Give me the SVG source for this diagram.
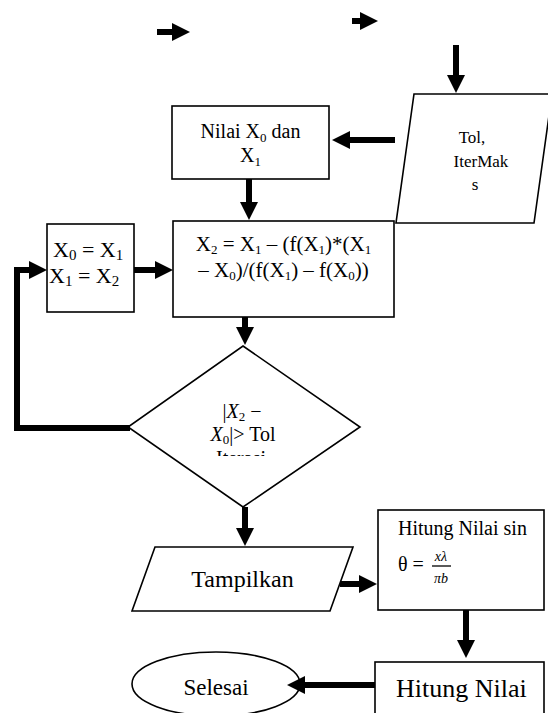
<svg xmlns="http://www.w3.org/2000/svg" width="548" height="713" viewBox="0 0 548 713">
<style>
.shape{fill:#fff;stroke:#000;stroke-width:1.6}
.arr{fill:none;stroke:#000;stroke-width:6;marker-end:url(#ah)}
.t{font-family:"Liberation Serif","Times New Roman",serif;fill:#000}
.i{font-style:italic}
</style>
<defs>
<marker id="ah" markerUnits="userSpaceOnUse" markerWidth="18" markerHeight="18" refX="6" refY="9" orient="auto" viewBox="0 0 18 18">
<path d="M0,0 L18,9 L0,18 z" fill="#000"/>
</marker>
<clipPath id="clipIter"><rect x="180" y="446" width="130" height="10"/></clipPath>
</defs>

<g id="nilai">
<rect class="shape" x="172" y="106" width="157" height="73"/>
<text class="t" font-size="20" x="250.5" y="138" text-anchor="middle">Nilai X<tspan font-size="13" dy="4">0</tspan><tspan dy="-4"> dan</tspan></text>
<text class="t" font-size="20" x="250.5" y="162" text-anchor="middle">X<tspan font-size="13" dy="4">1</tspan></text>
</g>

<g id="tol">
<polygon class="shape" points="414,94 552,94 534,223 396,223"/>
<text class="t" font-size="17" x="472" y="143" text-anchor="middle">Tol,</text>
<text class="t" font-size="17" x="481" y="167" text-anchor="middle">IterMak</text>
<text class="t" font-size="17" x="475" y="190" text-anchor="middle">s</text>
</g>

<g id="x2">
<rect class="shape" x="173" y="221" width="221" height="96"/>
<text class="t" font-size="21" x="283.5" y="251" text-anchor="middle">X<tspan font-size="13" dy="3">2</tspan><tspan dy="-3"> = X</tspan><tspan font-size="13" dy="3">1</tspan><tspan dy="-3"> – (f(X</tspan><tspan font-size="13" dy="3">1</tspan><tspan dy="-3">)*(X</tspan><tspan font-size="13" dy="3">1</tspan></text>
<text class="t" font-size="21" x="283.5" y="277" text-anchor="middle">– X<tspan font-size="13" dy="3">0</tspan><tspan dy="-3">)/(f(X</tspan><tspan font-size="13" dy="3">1</tspan><tspan dy="-3">) – f(X</tspan><tspan font-size="13" dy="3">0</tspan><tspan dy="-3">))</tspan></text>
</g>

<g id="swap">
<rect class="shape" x="47" y="224" width="87" height="88"/>
<text class="t" font-size="22" x="53" y="257">X<tspan font-size="15" dy="3">0</tspan><tspan dy="-3"> = X</tspan><tspan font-size="15" dy="3">1</tspan></text>
<text class="t" font-size="22" x="49" y="283">X<tspan font-size="15" dy="3">1</tspan><tspan dy="-3"> = X</tspan><tspan font-size="15" dy="3">2</tspan></text>
</g>

<g id="cek">
<polygon class="shape" points="243,346 360,427 243,507 128,427"/>
<text class="t" font-size="20" x="242" y="418" text-anchor="middle">|<tspan class="i">X</tspan><tspan font-size="13" dy="3">2</tspan><tspan dy="-3"> −</tspan></text>
<text class="t" font-size="20" x="243" y="441" text-anchor="middle"><tspan class="i">X</tspan><tspan font-size="13" dy="3">0</tspan><tspan dy="-3">|&gt; Tol</tspan></text>
<text class="t" font-size="20" x="241" y="465" text-anchor="middle" clip-path="url(#clipIter)">Iterasi</text>
</g>

<g id="tampilkan">
<polygon class="shape" points="155,547 353,547 330,611 132,611"/>
<text class="t" font-size="24" x="242.5" y="587" text-anchor="middle">Tampilkan</text>
</g>

<g id="hitungsin">
<rect class="shape" x="378" y="510" width="166" height="100"/>
<text class="t" font-size="20" x="398" y="535">Hitung Nilai sin</text>
<text class="t" font-size="20" x="398" y="571">θ =</text>
<text class="t i" font-size="14" x="441" y="561" text-anchor="middle">xλ</text>
<line x1="432" y1="566" x2="451" y2="566" stroke="#000" stroke-width="1.3"/>
<text class="t i" font-size="14" x="441" y="583" text-anchor="middle">πb</text>
</g>

<g id="hitung">
<rect class="shape" x="375" y="662" width="169" height="70"/>
<text class="t" font-size="26" x="396" y="697">Hitung Nilai</text>
</g>

<g id="selesai">
<ellipse class="shape" cx="216" cy="684" rx="84" ry="32"/>
<text class="t" font-size="23" x="216" y="695" text-anchor="middle">Selesai</text>
</g>

<g id="connectors">
<line class="arr" x1="157" y1="32" x2="178" y2="32"/>
<line class="arr" x1="352" y1="21" x2="366" y2="21"/>
<line class="arr" x1="456" y1="45" x2="456" y2="81"/>
<line class="arr" x1="395" y1="140" x2="344" y2="140"/>
<line class="arr" x1="249" y1="179" x2="249" y2="208"/>
<line class="arr" x1="134" y1="270" x2="161" y2="270" stroke-width="7"/>
<polyline class="arr" points="130,428 17,428 17,270 35,270"/>
<line class="arr" x1="245" y1="317" x2="245" y2="333"/>
<line class="arr" x1="245" y1="507" x2="245" y2="534"/>
<line class="arr" x1="340" y1="584" x2="365" y2="584"/>
<line class="arr" x1="466" y1="610" x2="466" y2="646"/>
<line class="arr" x1="375" y1="685" x2="299" y2="685"/>
</g>
</svg>
